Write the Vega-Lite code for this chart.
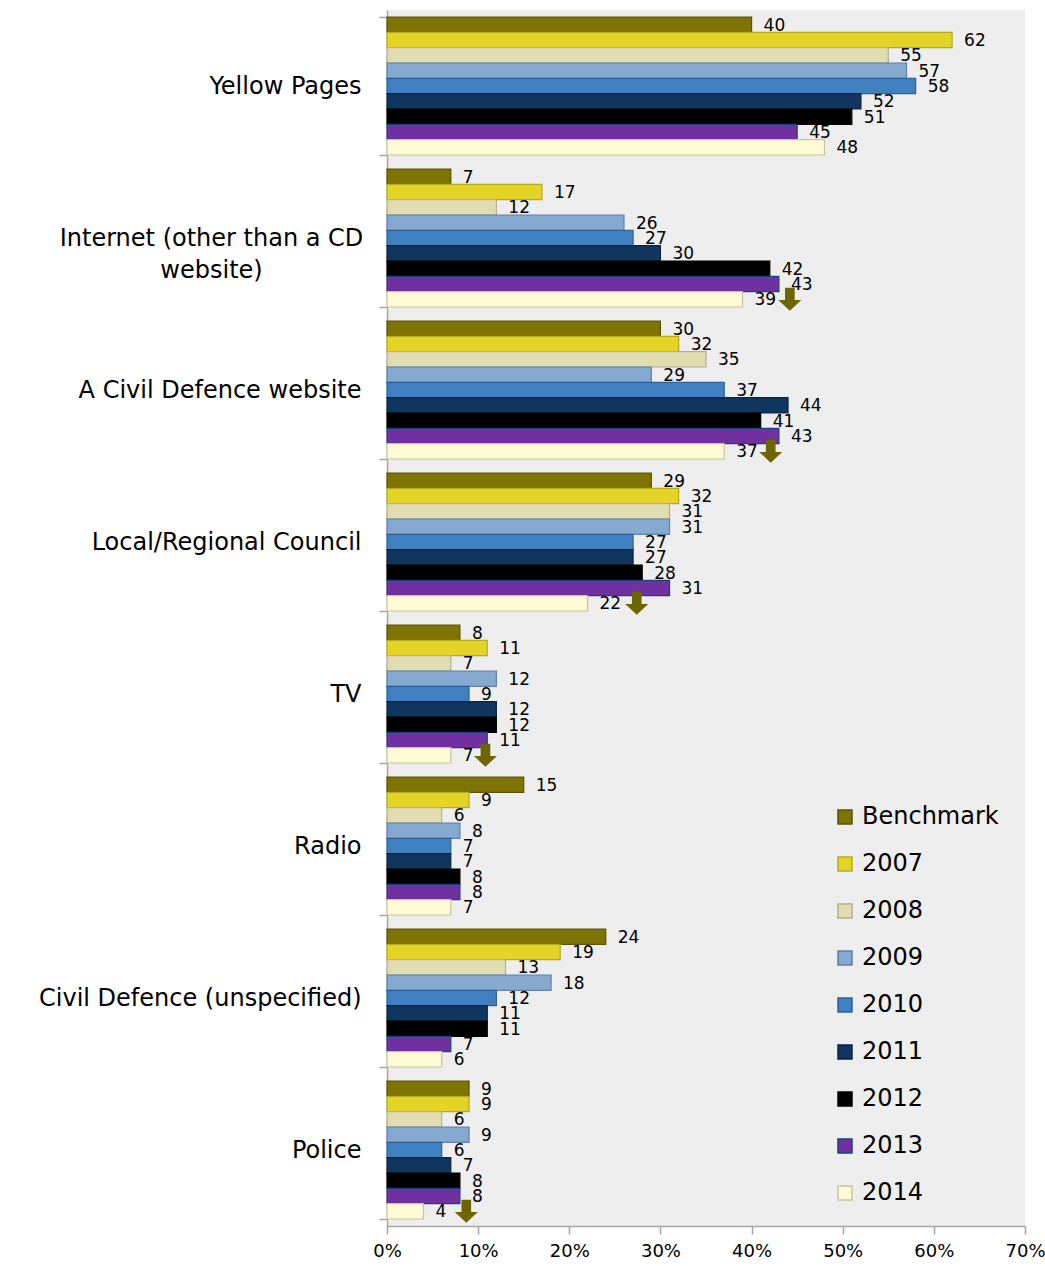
{
  "$schema": "https://vega.github.io/schema/vega-lite/v6.json",
  "width": 638,
  "height": 1216,
  "autosize": {"type": "none"},
  "padding": {"left": 387, "top": 10, "right": 20, "bottom": 40},
  "background": "white",
  "config": {
    "view": {"fill": "#eeeeee", "stroke": null},
    "font": "DejaVu Sans",
    "axis": {"domainColor": "#a6a6a6", "domainWidth": 1.5, "tickColor": "#a6a6a6", "tickWidth": 1.5, "tickSize": 8, "grid": false, "labelColor": "#000000", "title": null},
    "legend": {"orient": "none", "legendX": 446, "legendY": 795, "title": null, "labelFontSize": 24, "labelColor": "#000000", "symbolType": "square", "symbolSize": 196, "rowPadding": 23, "symbolStrokeWidth": 1.5, "labelOffset": 5}
  },
  "data": {"values": [
    {"cat": "Yellow Pages", "series": "Benchmark", "v": 40},
    {"cat": "Yellow Pages", "series": "2007", "v": 62},
    {"cat": "Yellow Pages", "series": "2008", "v": 55},
    {"cat": "Yellow Pages", "series": "2009", "v": 57},
    {"cat": "Yellow Pages", "series": "2010", "v": 58},
    {"cat": "Yellow Pages", "series": "2011", "v": 52},
    {"cat": "Yellow Pages", "series": "2012", "v": 51},
    {"cat": "Yellow Pages", "series": "2013", "v": 45},
    {"cat": "Yellow Pages", "series": "2014", "v": 48},
    {"cat": "Internet (other than a CD website)", "series": "Benchmark", "v": 7},
    {"cat": "Internet (other than a CD website)", "series": "2007", "v": 17},
    {"cat": "Internet (other than a CD website)", "series": "2008", "v": 12},
    {"cat": "Internet (other than a CD website)", "series": "2009", "v": 26},
    {"cat": "Internet (other than a CD website)", "series": "2010", "v": 27},
    {"cat": "Internet (other than a CD website)", "series": "2011", "v": 30},
    {"cat": "Internet (other than a CD website)", "series": "2012", "v": 42},
    {"cat": "Internet (other than a CD website)", "series": "2013", "v": 43},
    {"cat": "Internet (other than a CD website)", "series": "2014", "v": 39},
    {"cat": "A Civil Defence website", "series": "Benchmark", "v": 30},
    {"cat": "A Civil Defence website", "series": "2007", "v": 32},
    {"cat": "A Civil Defence website", "series": "2008", "v": 35},
    {"cat": "A Civil Defence website", "series": "2009", "v": 29},
    {"cat": "A Civil Defence website", "series": "2010", "v": 37},
    {"cat": "A Civil Defence website", "series": "2011", "v": 44},
    {"cat": "A Civil Defence website", "series": "2012", "v": 41},
    {"cat": "A Civil Defence website", "series": "2013", "v": 43},
    {"cat": "A Civil Defence website", "series": "2014", "v": 37},
    {"cat": "Local/Regional Council", "series": "Benchmark", "v": 29},
    {"cat": "Local/Regional Council", "series": "2007", "v": 32},
    {"cat": "Local/Regional Council", "series": "2008", "v": 31},
    {"cat": "Local/Regional Council", "series": "2009", "v": 31},
    {"cat": "Local/Regional Council", "series": "2010", "v": 27},
    {"cat": "Local/Regional Council", "series": "2011", "v": 27},
    {"cat": "Local/Regional Council", "series": "2012", "v": 28},
    {"cat": "Local/Regional Council", "series": "2013", "v": 31},
    {"cat": "Local/Regional Council", "series": "2014", "v": 22},
    {"cat": "TV", "series": "Benchmark", "v": 8},
    {"cat": "TV", "series": "2007", "v": 11},
    {"cat": "TV", "series": "2008", "v": 7},
    {"cat": "TV", "series": "2009", "v": 12},
    {"cat": "TV", "series": "2010", "v": 9},
    {"cat": "TV", "series": "2011", "v": 12},
    {"cat": "TV", "series": "2012", "v": 12},
    {"cat": "TV", "series": "2013", "v": 11},
    {"cat": "TV", "series": "2014", "v": 7},
    {"cat": "Radio", "series": "Benchmark", "v": 15},
    {"cat": "Radio", "series": "2007", "v": 9},
    {"cat": "Radio", "series": "2008", "v": 6},
    {"cat": "Radio", "series": "2009", "v": 8},
    {"cat": "Radio", "series": "2010", "v": 7},
    {"cat": "Radio", "series": "2011", "v": 7},
    {"cat": "Radio", "series": "2012", "v": 8},
    {"cat": "Radio", "series": "2013", "v": 8},
    {"cat": "Radio", "series": "2014", "v": 7},
    {"cat": "Civil Defence (unspecified)", "series": "Benchmark", "v": 24},
    {"cat": "Civil Defence (unspecified)", "series": "2007", "v": 19},
    {"cat": "Civil Defence (unspecified)", "series": "2008", "v": 13},
    {"cat": "Civil Defence (unspecified)", "series": "2009", "v": 18},
    {"cat": "Civil Defence (unspecified)", "series": "2010", "v": 12},
    {"cat": "Civil Defence (unspecified)", "series": "2011", "v": 11},
    {"cat": "Civil Defence (unspecified)", "series": "2012", "v": 11},
    {"cat": "Civil Defence (unspecified)", "series": "2013", "v": 7},
    {"cat": "Civil Defence (unspecified)", "series": "2014", "v": 6},
    {"cat": "Police", "series": "Benchmark", "v": 9},
    {"cat": "Police", "series": "2007", "v": 9},
    {"cat": "Police", "series": "2008", "v": 6},
    {"cat": "Police", "series": "2009", "v": 9},
    {"cat": "Police", "series": "2010", "v": 6},
    {"cat": "Police", "series": "2011", "v": 7},
    {"cat": "Police", "series": "2012", "v": 8},
    {"cat": "Police", "series": "2013", "v": 8},
    {"cat": "Police", "series": "2014", "v": 4}
  ]},
  "encoding": {
    "y": {
      "field": "cat", "type": "nominal", "sort": null,
      "scale": {"paddingInner": 0.092, "paddingOuter": 0.046},
      "axis": {"tickBand": "extent", "labelFontSize": 24, "labelLineHeight": 32, "labelLimit": 400,
        "labelPadding": {"condition": {"test": "datum.value == 'Internet (other than a CD website)'", "value": 168}, "value": 18},
        "labelAlign": {"condition": {"test": "datum.value == 'Internet (other than a CD website)'", "value": "center"}, "value": "right"},
        "labelExpr": "datum.value == 'Internet (other than a CD website)' ? ['Internet (other than a CD', 'website)'] : datum.value"}
    },
    "yOffset": {"field": "series", "type": "nominal", "sort": ["Benchmark","2007","2008","2009","2010","2011","2012","2013","2014"], "scale": {"paddingInner": 0, "paddingOuter": 0}},
    "x": {
      "field": "v", "type": "quantitative",
      "scale": {"domain": [0, 70], "nice": false},
      "axis": {"values": [0,10,20,30,40,50,60,70], "labelExpr": "datum.value + '%'", "labelFontSize": 18, "labelPadding": 8, "labelFlush": false}
    }
  },
  "layer": [
    {
      "mark": {"type": "bar", "strokeWidth": 1.2},
      "encoding": {
        "fill": {"field": "series", "type": "nominal", "sort": ["Benchmark","2007","2008","2009","2010","2011","2012","2013","2014"],
          "scale": {"domain": ["Benchmark","2007","2008","2009","2010","2011","2012","2013","2014"], "range": ["#7f7306","#e3d426","#e1ddb0","#86a9d0","#4080c0","#10365f","#000000","#7030a0","#fffbd5"]}},
        "stroke": {"field": "series", "type": "nominal", "sort": ["Benchmark","2007","2008","2009","2010","2011","2012","2013","2014"],
          "scale": {"domain": ["Benchmark","2007","2008","2009","2010","2011","2012","2013","2014"], "range": ["#5a5204","#b5a920","#b3ae90","#5f80a8","#2e6198","#0a2440","#000000","#203f80","#c8c4a0"]}}
      }
    },
    {
      "mark": {"type": "text", "align": "left", "baseline": "middle", "dx": 12, "dy": 1, "fontSize": 17, "color": "#000000"},
      "encoding": {"text": {"field": "v", "type": "quantitative"}}
    },
    {
      "data": {"values": [
        {"cat": "Internet (other than a CD website)", "series": "2014", "arrow": 44.2},
        {"cat": "A Civil Defence website", "series": "2014", "arrow": 42.1},
        {"cat": "Local/Regional Council", "series": "2014", "arrow": 27.4},
        {"cat": "TV", "series": "2014", "arrow": 10.8},
        {"cat": "Police", "series": "2014", "arrow": 8.7}
      ]},
      "mark": {"type": "point", "filled": true, "color": "#6e6500", "opacity": 1, "size": 529,
        "shape": "M-0.42,-1 L0.42,-1 L0.42,0.05 L1,0.05 L0,1 L-1,0.05 L-0.42,0.05 Z"},
      "encoding": {"x": {"field": "arrow", "type": "quantitative"}}
    }
  ]
}
